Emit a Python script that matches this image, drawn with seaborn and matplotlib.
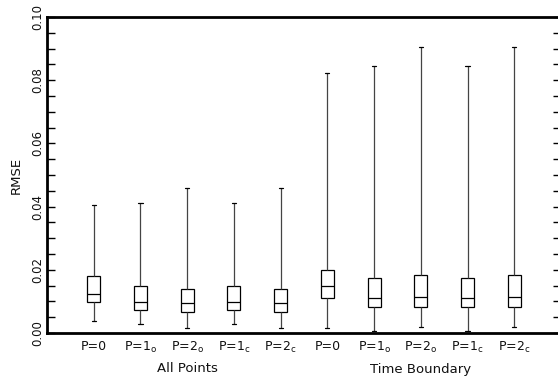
import numpy as np
import pandas as pd
import seaborn as sns
import matplotlib.pyplot as plt
from matplotlib.ticker import MultipleLocator, FormatStrFormatter
import matplotlib.transforms as mtransforms

# Box labels and groups
tick_labels = ["P=0", "P=1$_\\mathrm{o}$", "P=2$_\\mathrm{o}$", "P=1$_\\mathrm{c}$", "P=2$_\\mathrm{c}$"]
groups = ["All Points", "Time Boundary"]

# Five-number summaries of RMSE for each box (All Points, then Time Boundary)
rmse_min = [0.0037, 0.0029, 0.0016, 0.0029, 0.0016,
            0.0015, 0.0006, 0.0018, 0.0006, 0.0018]
rmse_q1 = [0.0097, 0.0074, 0.0065, 0.0074, 0.0065,
           0.0111, 0.0082, 0.0082, 0.0082, 0.0082]
rmse_median = [0.0122, 0.0097, 0.0095, 0.0097, 0.0095,
               0.0148, 0.0112, 0.0114, 0.0112, 0.0114]
rmse_q3 = [0.0181, 0.0148, 0.0139, 0.0148, 0.0139,
           0.0200, 0.0173, 0.0183, 0.0173, 0.0183]
rmse_max = [0.0404, 0.0412, 0.0459, 0.0412, 0.0459,
            0.0824, 0.0846, 0.0904, 0.0846, 0.0904]

keys = [f"{g}|{lab}" for g in groups for lab in tick_labels]
rows = []
for i, k in enumerate(keys):
    for v in (rmse_min[i], rmse_q1[i], rmse_median[i], rmse_q3[i], rmse_max[i]):
        rows.append({"case": k, "RMSE": v})
df = pd.DataFrame(rows)

sns.set_style("white")
plt.rcParams["font.family"] = ["DejaVu Sans"]

fig = plt.figure(figsize=(5.58, 3.85), dpi=100)
ax = fig.add_axes([47 / 558, 52 / 385, 514 / 558, 316 / 385])

sns.boxplot(data=df, x="case", y="RMSE", order=keys, whis=(0, 100),
            width=0.28, color="white", linecolor="black", linewidth=0.9,
            showfliers=False, ax=ax, capwidths=0.09,
            whiskerprops={"color": "#444444"})

ax.set_xlim(-1, 10)
ax.set_ylim(0, 0.10)
ax.set_xlabel("")
ax.set_ylabel("RMSE", fontsize=9.5, labelpad=6, color="#111111")

ax.yaxis.set_major_locator(MultipleLocator(0.02))
ax.yaxis.set_minor_locator(MultipleLocator(0.005))
ax.yaxis.set_major_formatter(FormatStrFormatter("%.2f"))
ax.tick_params(axis="y", which="both", direction="in", length=6, width=1,
               left=True, right=True, color="black", labelsize=8.5, pad=2,
               labelcolor="#111111")
for t in ax.get_yticklabels():
    t.set_rotation(90)
    t.set_va("center")

ax.set_xticks(range(len(keys)))
ax.set_xticklabels(tick_labels * 2, fontsize=9, color="#111111")
ax.tick_params(axis="x", length=0, pad=5)

for side in ("left", "top", "bottom"):
    ax.spines[side].set_linewidth(2)
    ax.spines[side].set_color("black")
ax.spines["right"].set_visible(False)

trans = mtransforms.blended_transform_factory(ax.transData, ax.transAxes)
for gi, g in enumerate(groups):
    ax.text(2 + 5 * gi, -36 / 316, g, transform=trans, ha="center", va="center",
            fontsize=9.5, color="#111111")

fig.savefig("out.png", dpi=100)
